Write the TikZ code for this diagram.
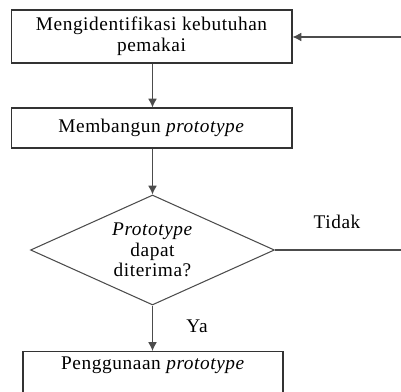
\documentclass[tikz,border=0pt]{standalone}
\usepackage{fontspec}
\setmainfont[LetterSpace=3]{Liberation Serif}
\usetikzlibrary{positioning,shapes.geometric,arrows.meta}

\begin{document}
\begin{tikzpicture}[x=0.02cm, y=-0.02cm, semithick, font=\fontsize{11}{11.8}\selectfont]
\tikzset{
    pbox/.style= {rectangle, draw=black!80, align=center, inner sep=0pt},
    pdecide/.style= {diamond, draw=black!70, align=center, aspect=2.2, inner sep=0pt, minimum width=4.88cm, minimum height=2.2cm},
    pflow/.style= {-{Latex[length=5pt,width=5pt]}, draw=black!70},
    pline/.style= {draw=black!70},
}
\useasboundingbox (0,0) rectangle (401,391);

\node[pbox, minimum width=5.62cm, minimum height=1.06cm] (need) at (151.5,36.5) {Mengidentifikasi kebutuhan\\pemakai};
\node[pbox, minimum width=5.62cm, minimum height=0.8cm] (build) at (151.5,128) {Membangun \textit{prototype}};
\node[pdecide] (check) at (152.5,250) {\textit{Prototype}\\dapat\\diterima?};
\node[pbox, minimum width=5.2cm, minimum height=0.86cm] (use) at (153,373) {Penggunaan \textit{prototype}\\[-4pt] \strut};

\coordinate (back) at (401,37);
\coordinate (reject) at (401,250);

\node (tidak) at (337,222) {Tidak};
\node (ya) at (197,326) {Ya};

\draw[pflow] (need.south -| check.north) -- (build.north -| check.north);
\draw[pflow] (build.south -| check.north) -- (check.north);
\draw[pflow] (check.south) -- (use.north -| check.south);
\draw[pline] (check.east) -- (reject);
\draw[pflow] (back) -- (need.east |- back);
\end{tikzpicture}
\end{document}
